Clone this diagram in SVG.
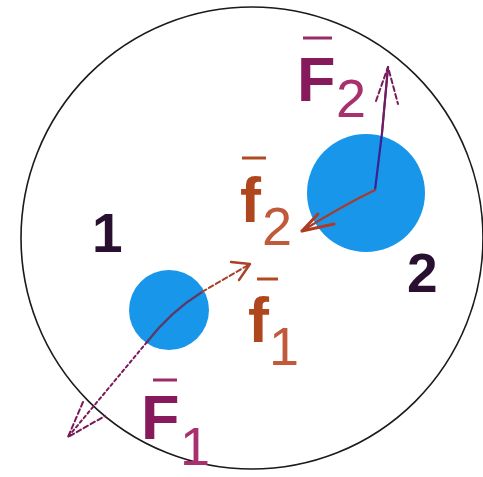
<svg xmlns="http://www.w3.org/2000/svg" width="483" height="477" viewBox="0 0 483 477">
<style>
.lbl{font-family:"Liberation Sans",Arial,sans-serif}
.big{font-size:63px;font-weight:bold}
.sub{font-size:54px;font-weight:normal}
.num{font-size:55px;font-weight:bold;fill:#2a1030}
.bar{stroke-width:3}
.F{fill:#861a5c}
.Fs{fill:#a8306e}
.f{fill:#b0461e}
.fs{fill:#c05a3a}
</style>
<rect width="483" height="477" fill="#ffffff"/>
<g id="boundary">
<circle cx="252" cy="238" r="231" fill="none" stroke="#1a1a1a" stroke-width="1.6"/>
</g>
<g id="body1">
<circle cx="169" cy="310" r="40" fill="#1896ea"/>
<text class="lbl num" x="92" y="252">1</text>
</g>
<g id="body2">
<circle cx="366" cy="193" r="59" fill="#1896ea"/>
<text class="lbl num" x="407" y="292">2</text>
</g>
<g id="connectors" fill="none" stroke-linecap="round" stroke-linejoin="round">
<path d="M375,190 L382,133 L388,67" stroke="#3a2390" stroke-width="2.2"/>
<path d="M382,133 L388,67" stroke="#7a1a5a" stroke-width="2"/>
<path d="M376,101 L388,67 L398,104" stroke="#7a1a5a" stroke-width="2" stroke-dasharray="5,3"/>
<path d="M375,190 Q342,206 302,231" stroke="#a04032" stroke-width="2.4"/>
<path d="M302,231 L318,214 M302,231 L334,224" stroke="#b03a24" stroke-width="3"/>
<path d="M147,342 Q170,312 202,292" stroke="#5a3a6a" stroke-width="2.2"/>
<path d="M147,342 L68,437" stroke="#7a1a5a" stroke-width="2" stroke-dasharray="3,3"/>
<path d="M83,402 L68,437 L105,416" stroke="#7a1a5a" stroke-width="2" stroke-dasharray="5,3"/>
<path d="M202,292 L250,264" stroke="#a8402a" stroke-width="2" stroke-dasharray="5,3"/>
<path d="M231,262 L250,264 L239,280" stroke="#a8402a" stroke-width="2.4"/>
</g>
<g id="label-F2">
<line class="bar" x1="303" y1="38" x2="332" y2="38" stroke="#9a2a68"/>
<text class="lbl big F" x="297" y="101">F</text>
<text class="lbl sub Fs" x="336" y="117">2</text>
</g>
<g id="label-f2">
<line class="bar" x1="242" y1="158" x2="266" y2="158" stroke="#b04a22"/>
<text class="lbl big f" x="240" y="222">f</text>
<text class="lbl sub fs" x="262" y="245">2</text>
</g>
<g id="label-f1">
<line class="bar" x1="257" y1="279" x2="278" y2="279" stroke="#b04a22"/>
<text class="lbl big f" x="248" y="342">f</text>
<text class="lbl sub fs" x="269" y="365">1</text>
</g>
<g id="label-F1">
<line class="bar" x1="153" y1="380" x2="177" y2="380" stroke="#9a2a68"/>
<text class="lbl big F" x="141" y="439">F</text>
<text class="lbl sub Fs" x="180" y="465">1</text>
</g>
</svg>
